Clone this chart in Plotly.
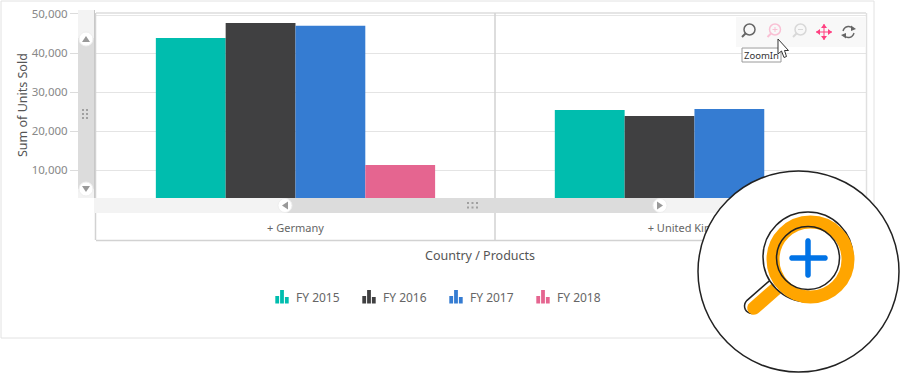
import math
import plotly.graph_objects as go

countries = ["+ Germany", "+ United Kingdom"]
fy_2015 = [43850, 25400]
fy_2016 = [47650, 23900]
fy_2017 = [47000, 25700]
fy_2018 = [11350, 7000]
series_names = ["FY 2015", "FY 2016", "FY 2017", "FY 2018"]
series_values = [fy_2015, fy_2016, fy_2017, fy_2018]
series_colors = ["#00bdae", "#404041", "#357cd2", "#e56590"]
y_ticks = [10000, 20000, 30000, 40000, 50000]
y_range = [2916, 50230]
x_range = [-0.5, 1.43]

W, H = 900, 378
L, R, T, B = 96, 866, 13, 198
FONT = "Noto Sans"


def px(x):
    return (x - L) / (R - L)


def py(y):
    return (B - y) / (B - T)


def rect(x0, y0, x1, y1, fill, line=None, lw=0, layer="above"):
    return dict(type="rect", xref="paper", yref="paper", x0=px(x0), x1=px(x1), y0=py(y0), y1=py(y1),
                fillcolor=fill, line=dict(color=line or "rgba(0,0,0,0)", width=lw), layer=layer)


def circ(cx, cy, r, fill="rgba(0,0,0,0)", line=None, lw=0):
    return dict(type="circle", xref="paper", yref="paper", x0=px(cx - r), x1=px(cx + r),
                y0=py(cy + r), y1=py(cy - r), fillcolor=fill,
                line=dict(color=line or "rgba(0,0,0,0)", width=lw), layer="above")


def seg(x0, y0, x1, y1, color, lw=1, layer="above"):
    return dict(type="line", xref="paper", yref="paper", x0=px(x0), x1=px(x1), y0=py(y0), y1=py(y1),
                line=dict(color=color, width=lw), layer=layer)


def poly(points, fill, line=None, lw=0, closed=True):
    d = "M" + " L".join(f"{px(a):.5f},{py(b):.5f}" for a, b in points) + (" Z" if closed else "")
    return dict(type="path", xref="paper", yref="paper", path=d, fillcolor=fill if closed else "rgba(0,0,0,0)",
                line=dict(color=line or "rgba(0,0,0,0)", width=lw), layer="above")


def capsule(x0, y0, x1, y1, w, fill, line=None, lw=0):
    a = math.atan2(y1 - y0, x1 - x0)
    r = w / 2
    pts = []
    for i in range(13):
        t = a + math.pi / 2 + math.pi * i / 12
        pts.append((x0 + r * math.cos(t), y0 + r * math.sin(t)))
    for i in range(13):
        t = a - math.pi / 2 + math.pi * i / 12
        pts.append((x1 + r * math.cos(t), y1 + r * math.sin(t)))
    return poly(pts, fill, line, lw)


def arc(cx, cy, r, a0, a1, color, lw):
    n = 14
    pts = [(cx + r * math.cos(math.radians(a0 + (a1 - a0) * i / n)),
            cy + r * math.sin(math.radians(a0 + (a1 - a0) * i / n))) for i in range(n + 1)]
    return poly(pts, None, color, lw, closed=False)


def text(x, y, s, size, color, angle=0, xanchor="center"):
    return dict(xref="paper", yref="paper", x=px(x), y=py(y), xanchor=xanchor, yanchor="middle", text=s,
                showarrow=False, textangle=angle, font=dict(family=FONT, size=size, color=color))


fig = go.Figure()
for name, vals, col in zip(series_names, series_values, series_colors):
    fig.add_bar(name=name, x=countries, y=vals, marker=dict(color=col, line=dict(width=0)), showlegend=False)

shapes = []
# outer frame
shapes.append(rect(1, 1, 874, 338, "rgba(0,0,0,0)", "#e2e2e2", 1, layer="below"))
# chart borders
LINE = "#d2d2d2"
shapes += [
    seg(96, 13, 866, 13, "#dcdcdc", 1.5), seg(96, 15.5, 866, 15.5, "#e6e6e6", 1),
    seg(866.5, 13, 866.5, 198, "#e0e0e0", 1.5),
    seg(95.5, 13, 95.5, 240, LINE, 1.5),
    seg(495, 13, 495, 240, LINE, 1.5),
    seg(96, 240.5, 866, 240.5, LINE, 1.5),
    seg(866.5, 198, 866.5, 240, LINE, 1.5),
]
# vertical scrollbar
shapes += [rect(78, 10, 94, 198, "#f3f3f3"), rect(78, 38, 94, 189, "#dcdcdc"), seg(94.5, 10, 94.5, 198, "#c8c8c8", 1)]
for cy, up in ((39, True), (189, False)):
    shapes.append(circ(86, cy, 7, "#ffffff", "#eeeeee", 1))
    d = -3 if up else 3
    shapes.append(poly([(82, cy - d), (90, cy - d), (86, cy + d)], "#999999"))
for gx in (83, 87):
    for gy in (110, 114, 118):
        shapes.append(rect(gx - 1, gy - 1, gx + 1, gy + 1, "#a0a0a0"))
# horizontal scrollbar
shapes += [rect(94, 198, 866, 213, "#f3f3f3"), rect(285, 198, 660, 213, "#dcdcdc")]
for cx, left in ((285, True), (660, False)):
    shapes.append(circ(cx, 205.5, 7, "#ffffff", "#eeeeee", 1))
    d = -3 if left else 3
    shapes.append(poly([(cx - d, 201.5), (cx - d, 209.5), (cx + d, 205.5)], "#999999"))
for gx in (468, 472.5, 477):
    for gy in (203, 207.5):
        shapes.append(rect(gx - 1, gy - 1, gx + 1, gy + 1, "#a0a0a0"))
# toolbar
shapes.append(rect(736, 17, 866, 47, "#f8f8f8"))
shapes += [circ(749.5, 29.5, 5.5, line="#666666", lw=1.5), seg(745.5, 33.5, 742, 37, "#666666", 2)]
shapes += [circ(775, 29.5, 5.5, line="#f9c0d4", lw=1.5), seg(771, 33.5, 767.5, 37, "#f9c0d4", 2),
           seg(772.5, 29.5, 777.5, 29.5, "#f9c0d4", 1), seg(775, 27, 775, 32, "#f9c0d4", 1)]
shapes += [circ(800.5, 29.5, 5.5, line="#d8d8d8", lw=1.5), seg(796.5, 33.5, 793, 37, "#d8d8d8", 2),
           seg(798, 29.5, 803, 29.5, "#d8d8d8", 1)]
PINK = "#ff4081"
shapes += [seg(816, 32, 832, 32, PINK, 1), seg(824, 24, 824, 40, PINK, 1)]
shapes += [poly([(821, 28), (827, 28), (824, 24)], PINK), poly([(821, 36), (827, 36), (824, 40)], PINK),
           poly([(820, 29), (820, 35), (816, 32)], PINK), poly([(828, 29), (828, 35), (832, 32)], PINK)]
shapes += [arc(848.5, 32, 5.5, 190, 320, "#666666", 1.5), arc(848.5, 32, 5.5, 10, 140, "#666666", 1.5),
           poly([(851, 25.5), (856, 29), (851, 31)], "#666666"), poly([(846, 38.5), (841, 35), (846, 33)], "#666666")]
# tooltip
shapes.append(rect(742, 48, 781, 62, "#ffffff", "#9a9a9a", 1))
# cursor
shapes.append(poly([(778, 39), (778, 54), (781.5, 51), (784, 57.5), (786.5, 56.5), (784.5, 50.5), (788.5, 50.5)],
                   "#ffffff", "#333333", 1))
# magnifier badge
shapes.append(circ(798.5, 271.5, 100.5, "#ffffff", "#222222", 1.5))
shapes.append(capsule(776, 285, 752, 306, 15, "#ffffff", "#222222", 1.5))
shapes.append(capsule(778, 287, 754, 308, 13.5, "#ffa500"))
shapes.append(circ(808, 257, 45, "#ffffff", "#222222", 1.5))
shapes.append(circ(810.5, 259.5, 37.5, "rgba(0,0,0,0)", "#ffa500", 13))
shapes.append(circ(808, 258, 31.5, "rgba(0,0,0,0)", "#222222", 1.5))
shapes.append(capsule(792, 258, 825, 258, 5.5, "#0073e6"))
shapes.append(capsule(808, 241, 808, 275, 5.5, "#0073e6"))

annotations = [text(761.5, 55.5, "ZoomIn", 9.5, "#333333"),
               text(480, 255, "Country / Products", 12.5, "#555555"),
               text(22, 105, "Sum of Units Sold", 12.5, "#555555", angle=-90)]
# legend
for i, (name, col) in enumerate(zip(series_names, series_colors)):
    x0 = 275.3 + 87 * i
    shapes += [rect(x0, 296, x0 + 3.8, 303.5, col), rect(x0 + 4.8, 290, x0 + 8.6, 303.5, col),
               rect(x0 + 9.6, 297, x0 + 13.4, 303.5, col)]
    annotations.append(text(x0 + 19, 297.5, name, 12, "#666666", xanchor="left"))

fig.update_layout(
    width=W, height=H, margin=dict(l=L, r=W - R, t=T, b=H - B, pad=0, autoexpand=False),
    paper_bgcolor="#ffffff", plot_bgcolor="#ffffff",
    barmode="group", bargap=0.3, bargroupgap=0,
    font=dict(family=FONT, color="#666666"),
    shapes=shapes, annotations=annotations,
    xaxis=dict(type="category", range=x_range, showgrid=False, zeroline=False, showline=False, automargin=False,
               ticks="outside", ticklen=20, tickcolor="rgba(0,0,0,0)", tickfont=dict(size=11, color="#666666")),
    yaxis=dict(range=y_range, tickvals=y_ticks, tickformat=",d", gridcolor="#e4e4e4", gridwidth=1, automargin=False,
               zeroline=False, showline=False, ticks="outside", ticklen=25, tickcolor="#dcdcdc",
               tickfont=dict(size=11.5, color="#888888")),
)
fig.write_html("out.html", config=dict(displayModeBar=False),
               post_script="document.body.style.margin='0';")
